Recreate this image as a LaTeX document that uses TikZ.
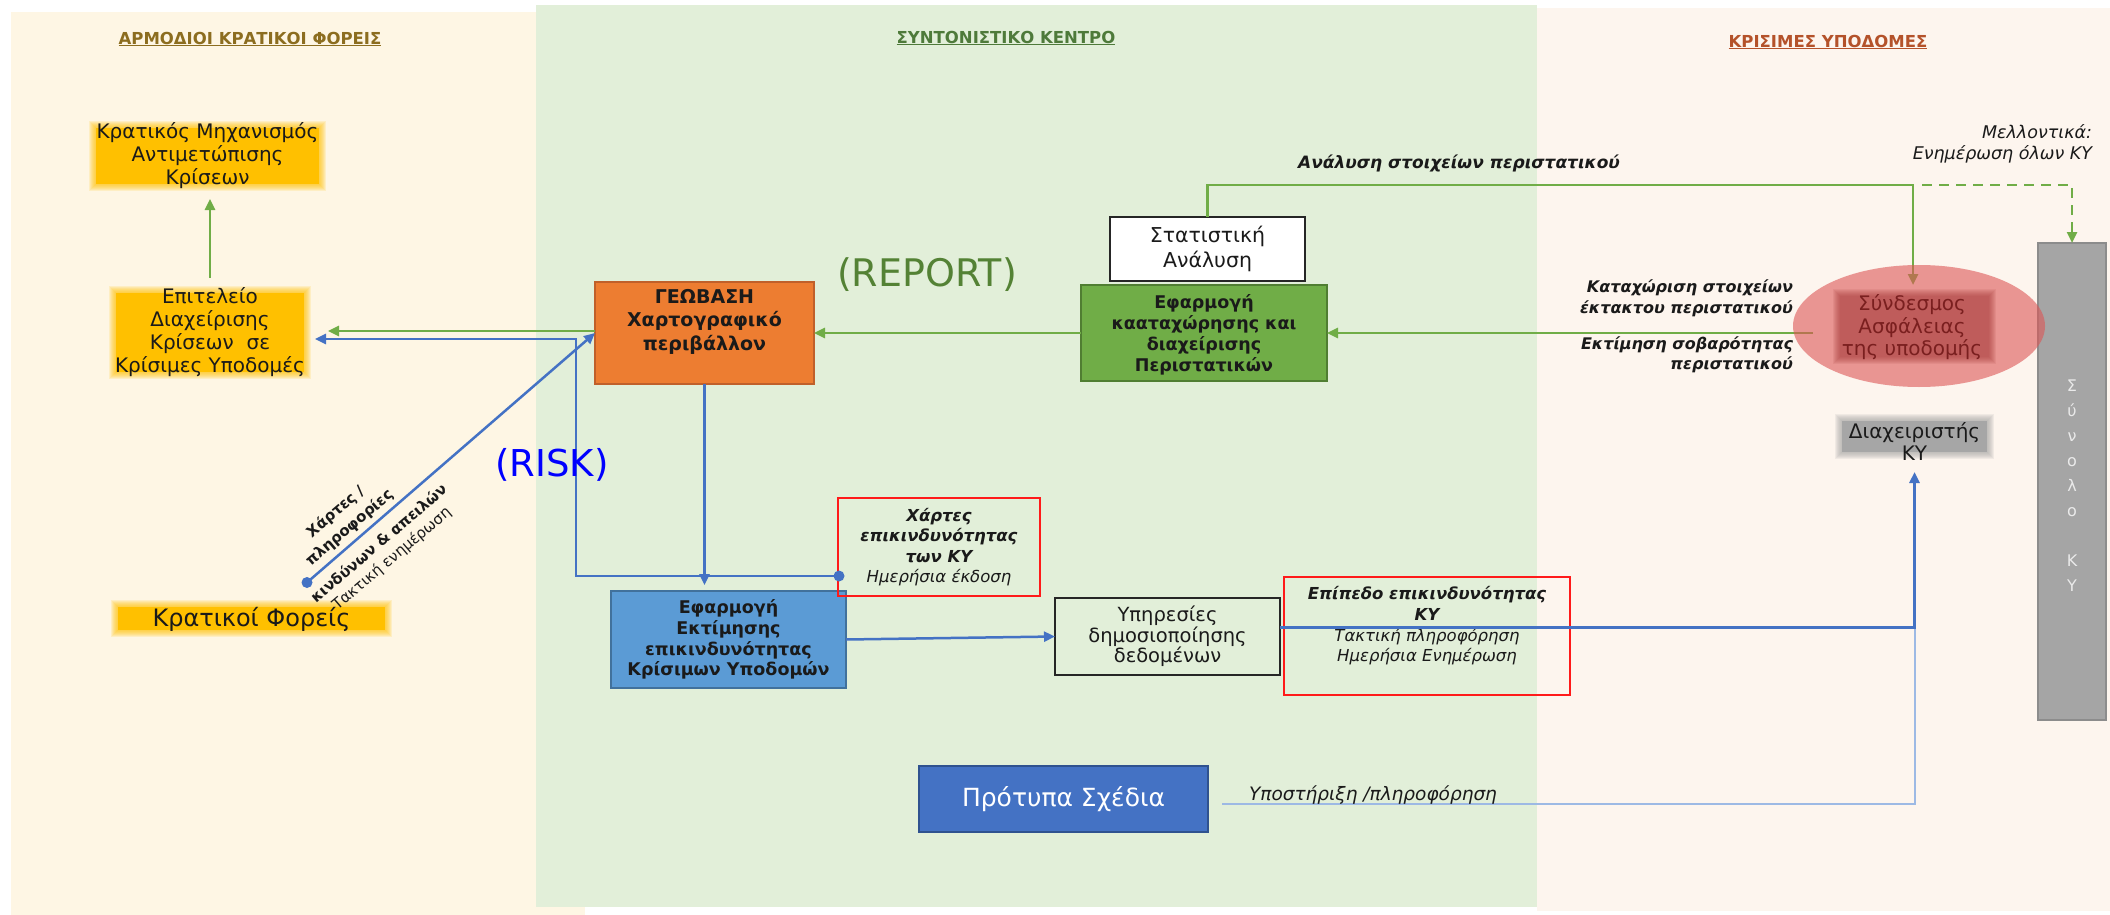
\documentclass[tikz,border=0pt]{standalone}
\usepackage{fontspec}
\usepackage{graphicx}
\setmainfont{DejaVu Sans}
\usetikzlibrary{arrows.meta,calc,shapes.geometric}
\definecolor{creamL}{HTML}{FEF6E4}
\definecolor{greenBG}{HTML}{E2EFD9}
\definecolor{pinkBG}{HTML}{FDF5EE}
\definecolor{gold}{HTML}{FFC000}
\definecolor{lineG}{HTML}{70AD47}
\definecolor{lineB}{HTML}{4472C4}
\definecolor{lineLB}{HTML}{9DB9E4}
\definecolor{geoO}{HTML}{ED7D31}
\definecolor{geoOD}{HTML}{C0602A}
\definecolor{boxG}{HTML}{70AD47}
\definecolor{boxGD}{HTML}{507E32}
\definecolor{boxB}{HTML}{5B9BD5}
\definecolor{boxBD}{HTML}{41719C}
\definecolor{protB}{HTML}{4472C4}
\definecolor{protBD}{HTML}{2F528F}
\definecolor{hdrL}{HTML}{8C6D1F}
\definecolor{hdrC}{HTML}{4E7A3A}
\definecolor{hdrR}{HTML}{B4522A}
\definecolor{riskB}{HTML}{0000FF}
\definecolor{repG}{HTML}{548235}
\definecolor{ellR}{HTML}{DD5555}
\definecolor{ellD}{HTML}{A83C3C}
\definecolor{ellT}{HTML}{7A1F1F}
\definecolor{grayBar}{HTML}{A5A5A5}
\definecolor{grayBarD}{HTML}{8C8C8C}
\definecolor{grayBox}{HTML}{A6A6A6}
\definecolor{barT}{HTML}{EAEAEA}
\definecolor{txt}{HTML}{1A1A1A}
\definecolor{redB}{HTML}{FF1A1A}
\newcommand{\fs}[2]{\fontsize{#1}{#2}\selectfont}
\newcommand{\glowrect}[5]{%
  \foreach \k in {1,2,...,7}{%
    \fill[#5,opacity=0.14] ({#1-\k},{#2-\k}) rectangle ({#3+\k},{#4+\k});}%
  \fill[#5] (#1,#2) rectangle (#3,#4);}
\newcommand{\softrect}[5]{%
  \foreach \k in {0,1,...,7}{%
    \fill[#5,opacity=0.11] ({#1-\k},{#2-\k}) rectangle ({#3+\k},{#4+\k});}}
\begin{document}
\begin{tikzpicture}[x=1pt,y=-1pt,
  every node/.style={inner sep=0pt, outer sep=0pt, text=txt},
  shapebox/.style={rectangle, inner sep=0pt, outer sep=0pt},
  hdr/.style={font=\fs{16.5}{20}\bfseries},
  gl/.style={draw=lineG, line width=2.5pt, -{Triangle[length=11pt,width=10pt]}},
  bl/.style={draw=lineB, line width=2.5pt, -{Triangle[length=11pt,width=10pt]}}]
\useasboundingbox (0,0) rectangle (2110,915);
\fill[white] (0,0) rectangle (2110,915);
\fill[creamL] (11,12) rectangle (585,915);
\fill[greenBG] (536,5) rectangle (1537,907);
\fill[pinkBG] (1537,8) rectangle (2110,911);

% headers
\node[hdr, text=hdrL] (hL) at (250,39) {\underline{ΑΡΜΟΔΙΟΙ ΚΡΑΤΙΚΟΙ ΦΟΡΕΙΣ}};
\node[hdr, text=hdrC] (hC) at (1006,38) {\underline{ΣΥΝΤΟΝΙΣΤΙΚΟ ΚΕΝΤΡΟ}};
\node[hdr, text=hdrR] (hR) at (1828,42) {\underline{ΚΡΙΣΙΜΕΣ ΥΠΟΔΟΜΕΣ}};

% glow boxes
\glowrect{96}{128}{319}{184}{gold}
\glowrect{116}{293}{304}{372}{gold}
\glowrect{118}{607}{385}{630}{gold}
\glowrect{1842}{421}{1987}{452}{grayBox}

% nodes
\node[shapebox, minimum width=232, minimum height=62,
  label={[font=\fs{20}{23}, align=center]center:{Κρατικός Μηχανισμός\\Αντιμετώπισης\\Κρίσεων}}] (km) at (207.5,156) {};
\node[shapebox, minimum width=196, minimum height=85,
  label={[font=\fs{20}{23}, align=center]center:{Επιτελείο\\Διαχείρισης\\Κρίσεων\ \ σε\\Κρίσιμες Υποδομές}}] (ep) at (210,332) {};
\node[shapebox, minimum width=273, minimum height=27,
  label={[font=\fs{24}{28}]center:{Κρατικοί Φορείς}}] (kf) at (251.5,619.5) {};

\node[shapebox, fill=geoO, draw=geoOD, line width=1.5pt, minimum width=219, minimum height=102,
  label={[font=\fs{19}{23.5}\bfseries, align=center, yshift=11.5pt]center:{ΓΕΩΒΑΣΗ\\Χαρτογραφικό\\περιβάλλον}}] (geo) at (704.5,333) {};
\node[shapebox, fill=white, draw=black!85, line width=2pt, minimum width=195, minimum height=64,
  label={[font=\fs{20.5}{25}, align=center]center:{Στατιστική\\Ανάλυση}}] (stat) at (1207.5,249) {};
\node[shapebox, fill=boxG, draw=boxGD, line width=1.5pt, minimum width=246, minimum height=96,
  label={[font=\fs{17.5}{21}\bfseries, align=center, yshift=-2pt]center:{Εφαρμογή\\κααταχώρησης και\\διαχείρισης\\Περιστατικών}}] (app) at (1204,333) {};
\node[shapebox, fill=boxB, draw=boxBD, line width=1.5pt, minimum width=235, minimum height=97,
  label={[font=\fs{17.5}{20.7}\bfseries, align=center]center:{Εφαρμογή\\Εκτίμησης\\επικινδυνότητας\\Κρίσιμων Υποδομών}}] (est) at (728.5,639.5) {};
\node[shapebox, draw=redB, line width=2pt, minimum width=202, minimum height=98,
  label={[font=\fs{16.5}{20.3}\itshape, align=center]center:{\textbf{Χάρτες}\\\textbf{επικινδυνότητας}\\\textbf{των ΚΥ}\\Ημερήσια έκδοση}}] (maps) at (939,547) {};
\node[shapebox, draw=black!85, line width=2pt, minimum width=225, minimum height=77,
  label={[font=\fs{19.5}{20.5}, align=center]center:{Υπηρεσίες\\δημοσιοποίησης\\δεδομένων}}] (pub) at (1167.5,636.5) {};
\node[shapebox, draw=redB, line width=2pt, minimum width=286, minimum height=118,
  label={[font=\fs{16.5}{20.7}\itshape, align=center, yshift=10pt]center:{\textbf{Επίπεδο επικινδυνότητας}\\\textbf{ΚΥ}\\Τακτική πληροφόρηση\\Ημερήσια Ενημέρωση}}] (lvl) at (1427,636) {};
\node[shapebox, fill=protB, draw=protBD, line width=1.5pt, minimum width=289, minimum height=66,
  label={[font=\fs{25}{29}, text=white]center:{Πρότυπα Σχέδια}}] (plans) at (1063.5,799) {};
\node[shapebox, fill=grayBar, draw=grayBarD, line width=1.5pt, minimum width=68, minimum height=477,
  label={[font=\fs{16}{25}, text=barT, align=center, yshift=-4.5pt]center:{Σ\\ύ\\ν\\ο\\λ\\ο\\[25pt]Κ\\Υ}}] (all) at (2072,481.5) {};
\node[shapebox, minimum width=155, minimum height=37,
  label={[font=\fs{20}{22}, align=center, yshift=-4.5pt]center:{Διαχειριστής\\ΚΥ}}] (mgr) at (1914.5,436.5) {};
\node[ellipse, minimum width=252, minimum height=122] (ell) at (1919,326) {};

% coordinates
\coordinate (dotK) at (307,582.5);
\coordinate (dotM) at ($(maps.south west)+(1,-20)$);
\coordinate (bendA) at (576,339);

% connectors
\draw[gl, shorten <=12pt, shorten >=12pt] (ep.north) -- (ep.north |- km.south);
\draw[gl] ($(geo.west)+(0,-2)$) -- ($(ep.east)+(20,-1)$);
\draw[bl] (dotM) -| (bendA) -- ($(ep.east)+(7,7)$);
\fill[lineB] (dotM) circle (5.5);
\draw[bl] (dotK) -- (geo.west);
\fill[lineB] (dotK) circle (5.5);
\draw[bl, shorten >=6pt] (geo.south) -- (geo.south |- est.north);
\draw[bl] (est.east) -- (pub.west);
\coordinate (pubOut) at ($(pub.east)+(0,-9.5)$);
\coordinate (joinP) at (mgr.south |- pubOut);
\draw[lineLB, line width=2pt] ($(plans.east)+(14,5)$) -| (joinP);
\draw[bl, line width=3pt, shorten >=17pt] (pubOut) -- (joinP) -- (mgr.south);
\draw[gl] (app.west) -- (geo.east);
\coordinate (stTop) at ($(stat.north)+(0,-32)$);
\coordinate (ellIn) at ($(ell.north)+(-6,20)$);
\draw[gl] (stat.north) -- (stTop) -- (stTop -| ellIn) -- (ellIn);
\draw[gl, dash pattern=on 10pt off 7pt] ($(stTop -| ellIn)+(9,0)$) -| (all.north);
\draw[gl] ($(ell.west)+(20,7)$) -- (app.east);

% ellipse drawn over lines
\fill[ellR, opacity=0.6] (ell.center) ellipse [x radius=126, y radius=61];
\softrect{1840}{296}{1989}{357}{ellD}
\node[font=\fs{20}{22.5}, text=ellT, align=center] (elltx) at (1912,327.5) {Σύνδεσμος\\Ασφάλειας\\της υποδομής};

% labels
\node[font=\fs{17}{20}\bfseries\itshape] (lbA) at (1459,163) {Ανάλυση στοιχείων περιστατικού};
\node[font=\fs{16}{21}\bfseries\itshape, align=right, anchor=east] (lbK) at (1793,298.5) {Καταχώριση στοιχείων\\έκτακτου περιστατικού};
\node[font=\fs{16}{20}\bfseries\itshape, align=right, anchor=east] (lbE) at (1793,355) {Εκτίμηση σοβαρότητας\\περιστατικού};
\node[font=\fs{17.5}{21}\itshape, align=right, anchor=east] (lbM) at (2092,143.5) {Μελλοντικά:\\Ενημέρωση όλων ΚΥ};
\node[font=\fs{18.5}{21}\itshape] (lbS) at (1373,795) {Υποστήριξη /πληροφόρηση};
\node[font=\fs{37}{40}, text=riskB] (risk) at (552,465) {(RISK)};
\node[font=\fs{38}{42}, text=repG] (rep) at (927,275) {(REPORT)};
\node[font=\fs{15}{21}\bfseries, align=center, rotate=40.4] (dg1) at (342.6,520) {Χάρτες /\\πληροφορίες};
\node[font=\fs{15}{19.5}, align=center, rotate=40.4] (dg2) at (385.5,551.5) {\textbf{κινδύνων \& απειλών}\\Τακτική ενημέρωση};
\end{tikzpicture}
\end{document}
